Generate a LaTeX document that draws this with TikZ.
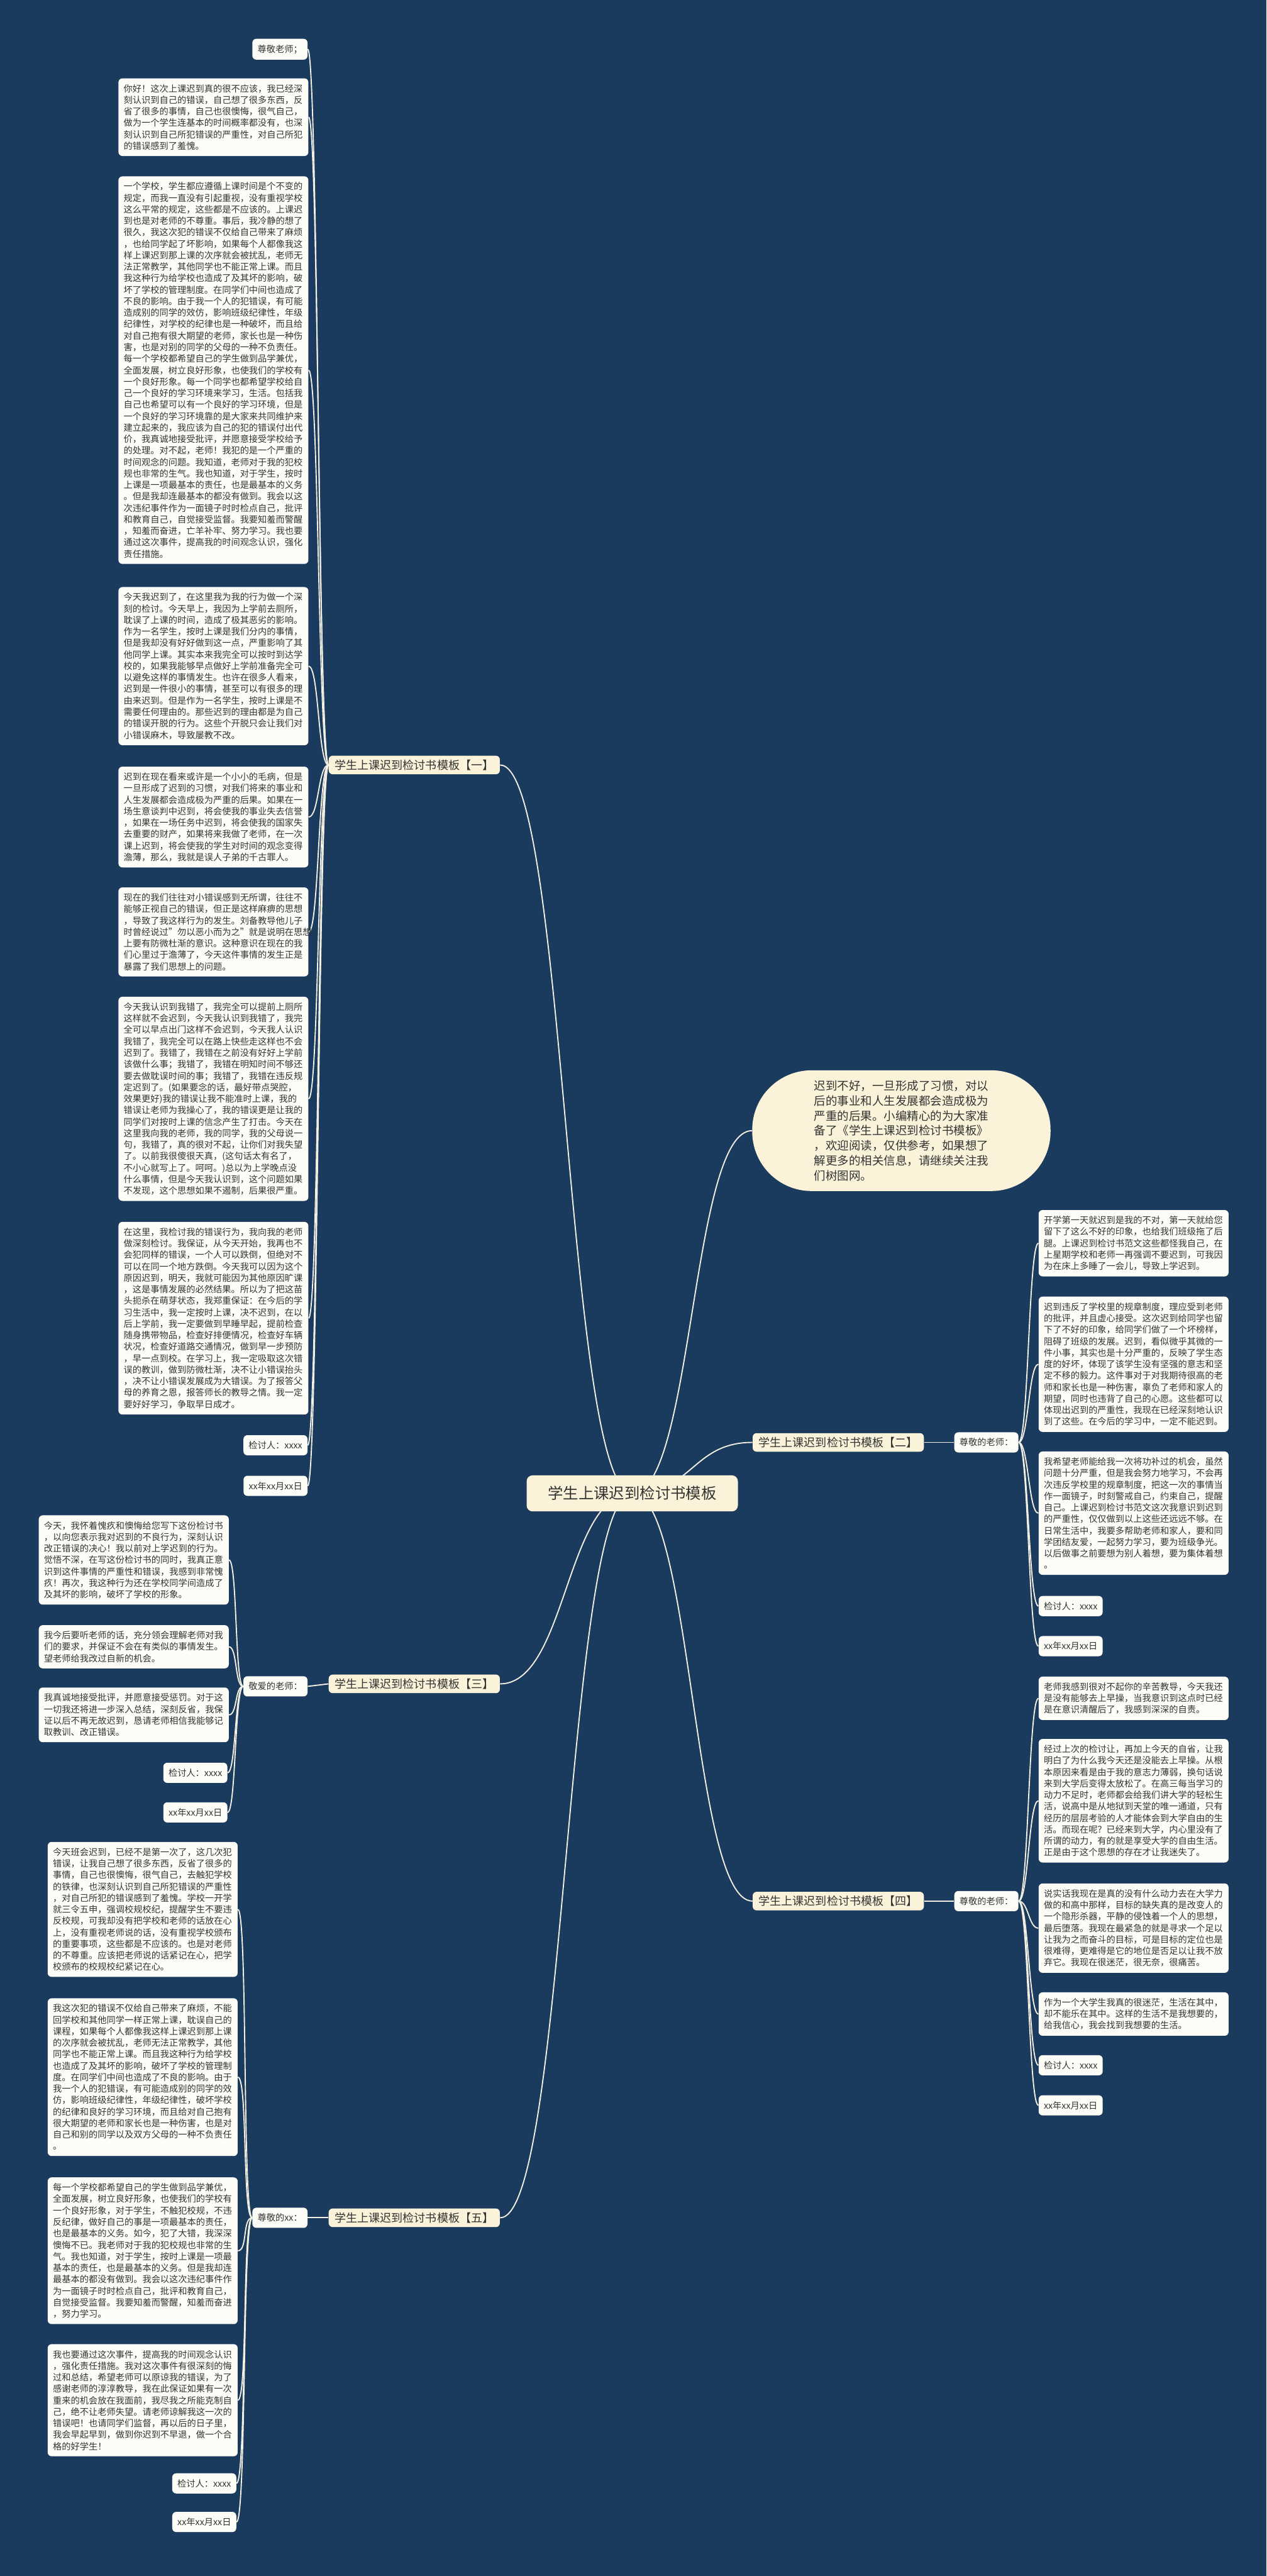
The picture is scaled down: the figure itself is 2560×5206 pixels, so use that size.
\documentclass[tikz,border=0pt]{standalone}
\usepackage{fontspec}
\setmainfont{Noto Sans CJK SC}
\definecolor{bgc}{HTML}{1B3B5E}
\definecolor{boxc}{HTML}{FDFDF8}
\definecolor{cream}{HTML}{FAF3DA}
\definecolor{txtc}{HTML}{333333}
\definecolor{linec}{HTML}{F2EFE2}
\pgfdeclarelayer{back}
\pgfsetlayers{back,main}
\begin{document}
\begin{tikzpicture}[x=0.5pt,y=-0.5pt,
  base/.style={fill=boxc, rounded corners=4pt, text=txtc, inner xsep=5.25pt, inner ysep=6pt, font=\fontsize{9.05pt}{11.6pt}\selectfont},
  para/.style={base, text width=181.5pt, align=left},
  lab/.style={base},
  branch/.style={fill=cream, rounded corners=4pt, text=txtc, inner xsep=6pt, inner ysep=4pt, font=\fontsize{11.5pt}{13pt}\selectfont},
  conn/.style={draw=linec, line width=1.2pt},
  lkl/.style={out=180, in=0, out distance=#1, in distance=#1},
  lkr/.style={out=0, in=180, out distance=#1, in distance=#1}
]
\begin{pgfonlayer}{back}
\fill[bgc] (0,0) rectangle (2560,5206);
\end{pgfonlayer}
\useasboundingbox (0,0) rectangle (2560,5206);

% central
\node[fill=cream, rounded corners=6pt, inner xsep=21.5pt, inner ysep=11pt, font=\fontsize{15.5pt}{18pt}\selectfont, text=txtc] (c) at (1278,3018) {学生上课迟到检讨书模板};

% intro bubble
\node[fill=cream, rounded corners=60pt, minimum width=301.5pt, minimum height=122pt, text width=176.5pt, align=left, inner sep=0pt, font=\fontsize{11.75pt}{15.15pt}\selectfont, text=txtc] (intro) at (1822,2285) {迟到不好，一旦形成了习惯，对以\\后的事业和人生发展都会造成极为\\严重的后果。小编精心的为大家准\\备了《学生上课迟到检讨书模板》\\，欢迎阅读，仅供参考，如果想了\\解更多的相关信息，请继续关注我\\们树图网。};

% branches
\node[branch, anchor=west] (b1) at (664,1546) {学生上课迟到检讨书模板【一】};
\node[branch, anchor=west] (b2) at (1521,2915) {学生上课迟到检讨书模板【二】};
\node[branch, anchor=west] (b3) at (664,3403) {学生上课迟到检讨书模板【三】};
\node[branch, anchor=west] (b4) at (1521,3842) {学生上课迟到检讨书模板【四】};
\node[branch, anchor=west] (b5) at (664,4482) {学生上课迟到检讨书模板【五】};

% mid nodes
\node[lab, anchor=east] (m2) at (2059,2915) {尊敬的老师：};
\node[lab, anchor=east] (m3) at (622,3408) {敬爱的老师：};
\node[lab, anchor=east] (m4) at (2059,3842) {尊敬的老师：};
\node[lab, anchor=east] (m5) at (622,4482) {尊敬的xx：};

% ---------- branch 1 ----------
\node[lab, anchor=north east] (n1a) at (622,78) {尊敬老师；};
\node[para, anchor=north west] (n1b) at (239,158) {你好！这次上课迟到真的很不应该，我已经深\\刻认识到自己的错误，自己想了很多东西，反\\省了很多的事情，自己也很懊悔，很气自己，\\做为一个学生连基本的时间概率都没有，也深\\刻认识到自己所犯错误的严重性，对自己所犯\\的错误感到了羞愧。};
\node[para, anchor=north west] (n1c) at (239,356) {一个学校，学生都应遵循上课时间是个不变的\\规定，而我一直没有引起重视，没有重视学校\\这么平常的规定，这些都是不应该的。上课迟\\到也是对老师的不尊重。事后，我冷静的想了\\很久，我这次犯的错误不仅给自己带来了麻烦\\，也给同学起了坏影响，如果每个人都像我这\\样上课迟到那上课的次序就会被扰乱，老师无\\法正常教学，其他同学也不能正常上课。而且\\我这种行为给学校也造成了及其坏的影响，破\\坏了学校的管理制度。在同学们中间也造成了\\不良的影响。由于我一个人的犯错误，有可能\\造成别的同学的效仿，影响班级纪律性，年级\\纪律性，对学校的纪律也是一种破坏，而且给\\对自己抱有很大期望的老师，家长也是一种伤\\害，也是对别的同学的父母的一种不负责任。\\每一个学校都希望自己的学生做到品学兼优，\\全面发展，树立良好形象，也使我们的学校有\\一个良好形象。每一个同学也都希望学校给自\\己一个良好的学习环境来学习，生活。包括我\\自己也希望可以有一个良好的学习环境，但是\\一个良好的学习环境靠的是大家来共同维护来\\建立起来的，我应该为自己的犯的错误付出代\\价，我真诚地接受批评，并愿意接受学校给予\\的处理。对不起，老师！我犯的是一个严重的\\时间观念的问题。我知道，老师对于我的犯校\\规也非常的生气。我也知道，对于学生，按时\\上课是一项最基本的责任，也是最基本的义务\\。但是我却连最基本的都没有做到。我会以这\\次违纪事件作为一面镜子时时检点自己，批评\\和教育自己，自觉接受监督。我要知羞而警醒\\，知羞而奋进，亡羊补牢、努力学习。我也要\\通过这次事件，提高我的时间观念认识，强化\\责任措施。};
\node[para, anchor=north west] (n1d) at (239,1186) {今天我迟到了，在这里我为我的行为做一个深\\刻的检讨。今天早上，我因为上学前去厕所，\\耽误了上课的时间，造成了极其恶劣的影响。\\作为一名学生，按时上课是我们分内的事情，\\但是我却没有好好做到这一点，严重影响了其\\他同学上课。其实本来我完全可以按时到达学\\校的，如果我能够早点做好上学前准备完全可\\以避免这样的事情发生。也许在很多人看来，\\迟到是一件很小的事情，甚至可以有很多的理\\由来迟到。但是作为一名学生，按时上课是不\\需要任何理由的。那些迟到的理由都是为自己\\的错误开脱的行为。这些个开脱只会让我们对\\小错误麻木，导致屡教不改。};
\node[para, anchor=north west] (n1e) at (239,1549) {迟到在现在看来或许是一个小小的毛病，但是\\一旦形成了迟到的习惯，对我们将来的事业和\\人生发展都会造成极为严重的后果。如果在一\\场生意谈判中迟到，将会使我的事业失去信誉\\，如果在一场任务中迟到，将会使我的国家失\\去重要的财产，如果将来我做了老师，在一次\\课上迟到，将会使我的学生对时间的观念变得\\澹薄，那么，我就是误人子弟的千古罪人。};
\node[para, anchor=north west] (n1f) at (239,1793) {现在的我们往往对小错误感到无所谓，往往不\\能够正视自己的错误，但正是这样麻痹的思想\\，导致了我这样行为的发生。刘备教导他儿子\\时曾经说过"勿以恶小而为之"就是说明在思想\\上要有防微杜渐的意识。这种意识在现在的我\\们心里过于澹薄了，今天这件事情的发生正是\\暴露了我们思想上的问题。};
\node[para, anchor=north west] (n1g) at (239,2014) {今天我认识到我错了，我完全可以提前上厕所\\这样就不会迟到，今天我认识到我错了，我完\\全可以早点出门这样不会迟到，今天我人认识\\我错了，我完全可以在路上快些走这样也不会\\迟到了。我错了，我错在之前没有好好上学前\\该做什么事；我错了，我错在明知时间不够还\\要去做耽误时间的事；我错了，我错在违反规\\定迟到了。(如果要念的话，最好带点哭腔，\\效果更好)我的错误让我不能准时上课，我的\\错误让老师为我操心了，我的错误更是让我的\\同学们对按时上课的信念产生了打击。今天在\\这里我向我的老师，我的同学，我的父母说一\\句，我错了，真的很对不起，让你们对我失望\\了。以前我很傻很天真，(这句话太有名了，\\不小心就写上了。呵呵。)总以为上学晚点没\\什么事情，但是今天我认识到，这个问题如果\\不发现，这个思想如果不遏制，后果很严重。};
\node[para, anchor=north west] (n1h) at (239,2469) {在这里，我检讨我的错误行为，我向我的老师\\做深刻检讨。我保证，从今天开始，我再也不\\会犯同样的错误，一个人可以跌倒，但绝对不\\可以在同一个地方跌倒。今天我可以因为这个\\原因迟到，明天，我就可能因为其他原因旷课\\，这是事情发展的必然结果。所以为了把这苗\\头扼杀在萌芽状态，我郑重保证：在今后的学\\习生活中，我一定按时上课，决不迟到，在以\\后上学前，我一定要做到早睡早起，提前检查\\随身携带物品，检查好排便情况，检查好车辆\\状况，检查好道路交通情况，做到早一步预防\\，早一点到校。在学习上，我一定吸取这次错\\误的教训，做到防微杜渐，决不让小错误抬头\\，决不让小错误发展成为大错误。为了报答父\\母的养育之恩，报答师长的教导之情。我一定\\要好好学习，争取早日成才。};
\node[lab, anchor=north east] (n1i) at (622,2900) {检讨人：xxxx};
\node[lab, anchor=north east] (n1j) at (622,2982) {xx年xx月xx日};

% ---------- branch 2 ----------
\node[para, anchor=north west] (n2a) at (2099,2445) {开学第一天就迟到是我的不对，第一天就给您\\留下了这么不好的印象，也给我们班级拖了后\\腿。上课迟到检讨书范文这些都怪我自己，在\\上星期学校和老师一再强调不要迟到，可我因\\为在床上多睡了一会儿，导致上学迟到。};
\node[para, anchor=north west] (n2b) at (2099,2620) {迟到违反了学校里的规章制度，理应受到老师\\的批评，并且虚心接受。这次迟到给同学也留\\下了不好的印象，给同学们做了一个坏榜样，\\阻碍了班级的发展。迟到，看似微乎其微的一\\件小事，其实也是十分严重的，反映了学生态\\度的好坏，体现了该学生没有坚强的意志和坚\\定不移的毅力。这件事对于对我期待很高的老\\师和家长也是一种伤害，辜负了老师和家人的\\期望，同时也违背了自己的心愿。这些都可以\\体现出迟到的严重性，我现在已经深刻地认识\\到了这些。在今后的学习中，一定不能迟到。};
\node[para, anchor=north west] (n2c) at (2099,2933) {我希望老师能给我一次将功补过的机会，虽然\\问题十分严重，但是我会努力地学习，不会再\\次违反学校里的规章制度，把这一次的事情当\\作一面镜子，时刻警戒自己，约束自己，提醒\\自己。上课迟到检讨书范文这次我意识到迟到\\的严重性，仅仅做到以上这些还远远不够。在\\日常生活中，我要多帮助老师和家人，要和同\\学团结友爱，一起努力学习，要为班级争光。\\以后做事之前要想为别人着想，要为集体着想\\。};
\node[lab, anchor=north west] (n2d) at (2099,3225) {检讨人：xxxx};
\node[lab, anchor=north west] (n2e) at (2099,3306) {xx年xx月xx日};

% ---------- branch 3 ----------
\node[para, anchor=north west] (n3a) at (78,3062) {今天，我怀着愧疚和懊悔给您写下这份检讨书\\，以向您表示我对迟到的不良行为，深刻认识\\改正错误的决心！我以前对上学迟到的行为。\\觉悟不深，在写这份检讨书的同时，我真正意\\识到这件事情的严重性和错误，我感到非常愧\\疚！再次，我这种行为还在学校同学间造成了\\及其坏的影响，破坏了学校的形象。};
\node[para, anchor=north west] (n3b) at (78,3284) {我今后要听老师的话，充分领会理解老师对我\\们的要求，并保证不会在有类似的事情发生。\\望老师给我改过自新的机会。};
\node[para, anchor=north west] (n3c) at (78,3410) {我真诚地接受批评，并愿意接受惩罚。对于这\\一切我还将进一步深入总结，深刻反省，我保\\证以后不再无故迟到，恳请老师相信我能够记\\取教训、改正错误。};
\node[lab, anchor=north east] (n3d) at (460,3562) {检讨人：xxxx};
\node[lab, anchor=north east] (n3e) at (460,3642) {xx年xx月xx日};

% ---------- branch 4 ----------
\node[para, anchor=north west] (n4a) at (2099,3388) {老师我感到很对不起你的辛苦教导，今天我还\\是没有能够去上早操，当我意识到这点时已经\\是在意识清醒后了，我感到深深的自责。};
\node[para, anchor=north west] (n4b) at (2099,3514) {经过上次的检讨让，再加上今天的自省，让我\\明白了为什么我今天还是没能去上早操。从根\\本原因来看是由于我的意志力薄弱，换句话说\\来到大学后变得太放松了。在高三每当学习的\\动力不足时，老师都会给我们讲大学的轻松生\\活，说高中是从地狱到天堂的唯一通道，只有\\经历的层层考验的人才能体会到大学自由的生\\活。而现在呢？已经来到大学，内心里没有了\\所谓的动力，有的就是享受大学的自由生活。\\正是由于这个思想的存在才让我迷失了。};
\node[para, anchor=north west] (n4c) at (2099,3806) {说实话我现在是真的没有什么动力去在大学力\\做的和高中那样，目标的缺失真的是改变人的\\一个隐形杀器，平静的侵蚀着一个人的思想，\\最后堕落。我现在最紧急的就是寻求一个足以\\让我为之而奋斗的目标，可是目标的定位也是\\很难得，更难得是它的地位是否足以让我不放\\弃它。我现在很迷茫，很无奈，很痛苦。};
\node[para, anchor=north west] (n4d) at (2099,4026) {作为一个大学生我真的很迷茫，生活在其中，\\却不能乐在其中。这样的生活不是我想要的，\\给我信心，我会找到我想要的生活。};
\node[lab, anchor=north west] (n4e) at (2099,4153) {检讨人：xxxx};
\node[lab, anchor=north west] (n4f) at (2099,4234) {xx年xx月xx日};

% ---------- branch 5 ----------
\node[para, anchor=north west] (n5a) at (96,3722) {今天班会迟到，已经不是第一次了，这几次犯\\错误，让我自己想了很多东西，反省了很多的\\事情，自己也很懊悔，很气自己，去触犯学校\\的铁律，也深刻认识到自己所犯错误的严重性\\，对自己所犯的错误感到了羞愧。学校一开学\\就三令五申，强调校规校纪，提醒学生不要违\\反校规，可我却没有把学校和老师的话放在心\\上，没有重视老师说的话，没有重视学校颁布\\的重要事项，这些都是不应该的。也是对老师\\的不尊重。应该把老师说的话紧记在心，把学\\校颁布的校规校纪紧记在心。};
\node[para, anchor=north west] (n5b) at (96,4038) {我这次犯的错误不仅给自己带来了麻烦，不能\\回学校和其他同学一样正常上课，耽误自己的\\课程，如果每个人都像我这样上课迟到那上课\\的次序就会被扰乱，老师无法正常教学，其他\\同学也不能正常上课。而且我这种行为给学校\\也造成了及其坏的影响，破坏了学校的管理制\\度。在同学们中间也造成了不良的影响。由于\\我一个人的犯错误，有可能造成别的同学的效\\仿，影响班级纪律性，年级纪律性，破坏学校\\的纪律和良好的学习环境，而且给对自己抱有\\很大期望的老师和家长也是一种伤害，也是对\\自己和别的同学以及双方父母的一种不负责任\\。};
\node[para, anchor=north west] (n5c) at (96,4400) {每一个学校都希望自己的学生做到品学兼优，\\全面发展，树立良好形象，也使我们的学校有\\一个良好形象，对于学生，不触犯校规，不违\\反纪律，做好自己的事是一项最基本的责任，\\也是最基本的义务。如今，犯了大错，我深深\\懊悔不已。我老师对于我的犯校规也非常的生\\气。我也知道，对于学生，按时上课是一项最\\基本的责任，也是最基本的义务。但是我却连\\最基本的都没有做到。我会以这次违纪事件作\\为一面镜子时时检点自己，批评和教育自己，\\自觉接受监督。我要知羞而警醒，知羞而奋进\\，努力学习。};
\node[para, anchor=north west] (n5d) at (96,4737) {我也要通过这次事件，提高我的时间观念认识\\，强化责任措施。我对这次事件有很深刻的悔\\过和总结，希望老师可以原谅我的错误，为了\\感谢老师的淳淳教导，我在此保证如果有一次\\重来的机会放在我面前，我尽我之所能克制自\\己，绝不让老师失望。请老师谅解我这一次的\\错误吧！也请同学们监督，再以后的日子里，\\我会早起早到，做到你迟到不早退，做一个合\\格的好学生！};
\node[lab, anchor=north east] (n5e) at (478,4998) {检讨人：xxxx};
\node[lab, anchor=north east] (n5f) at (478,5076) {xx年xx月xx日};

% ---------- connectors ----------
\begin{pgfonlayer}{back}
\draw[conn] (c.center) to[lkr=61.5pt] (intro.west);
\draw[conn] (c.center) to[lkr=60.75pt] (b2.west);
\draw[conn] (c.center) to[lkr=60.75pt] (b4.west);
\draw[conn] (c.center) to[lkl=67pt] (b1.east);
\draw[conn] (c.center) to[lkl=67pt] (b3.east);
\draw[conn] (c.center) to[lkl=67pt] (b5.east);
\draw[conn] (b2.east) -- (m2.west);
\draw[conn] (b4.east) -- (m4.west);
\draw[conn] (b3.west) -- (m3.east);
\draw[conn] (b5.west) -- (m5.east);
\foreach \n in {n1a,n1b,n1c,n1d,n1e,n1f,n1g,n1h,n1i,n1j}
  \draw[conn] (b1.west) to[lkl=10.5pt] (\n.east);
\foreach \n in {n2a,n2b,n2c,n2d,n2e}
  \draw[conn] (m2.east) to[lkr=10pt] (\n.west);
\foreach \n in {n3a,n3b,n3c,n3d,n3e}
  \draw[conn] (m3.west) to[lkl=8.5pt] (\n.east);
\foreach \n in {n4a,n4b,n4c,n4d,n4e,n4f}
  \draw[conn] (m4.east) to[lkr=10pt] (\n.west);
\foreach \n in {n5a,n5b,n5c,n5d,n5e,n5f}
  \draw[conn] (m5.west) to[lkl=10pt] (\n.east);
\end{pgfonlayer}
\end{tikzpicture}
\end{document}
